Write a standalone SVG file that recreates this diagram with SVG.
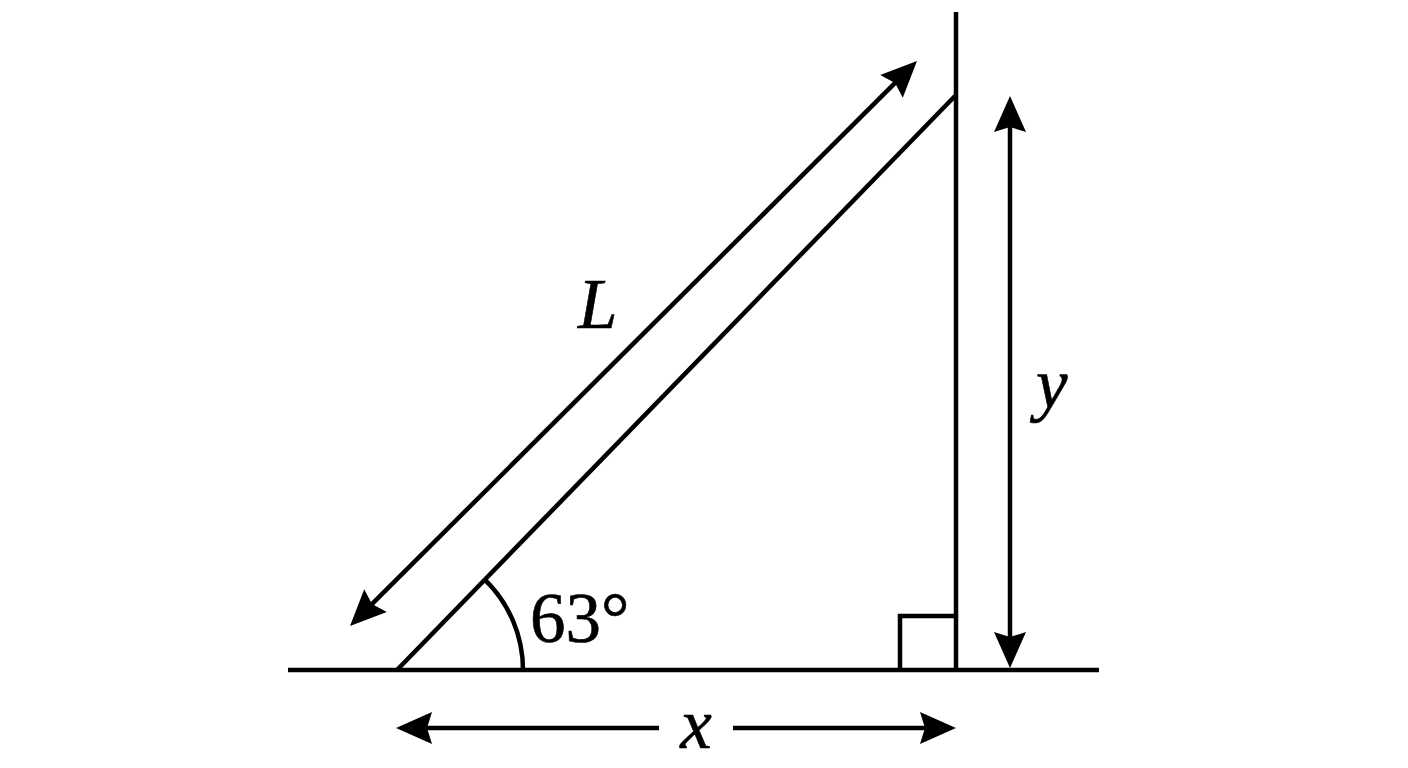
<svg xmlns="http://www.w3.org/2000/svg" width="1408" height="768" viewBox="0 0 1408 768">
<style>
.ln{stroke:#000;stroke-width:4.5;fill:none;stroke-linecap:butt}
.lbl{font-family:"Liberation Serif","Times New Roman",serif;font-size:71px;fill:#000;stroke:#000;stroke-width:0.6}
.it{font-style:italic}
</style>
<defs>
<marker id="ah" markerUnits="userSpaceOnUse" viewBox="-38 -17 40 34" refX="-10" refY="0" markerWidth="40" markerHeight="34" orient="auto-start-reverse">
<path d="M0,0 L-36,-16 L-31,0 L-36,16 Z" fill="#000"/>
</marker>
</defs>
<rect width="1408" height="768" fill="#fff"/>
<g id="ground"><line class="ln" x1="288" y1="670" x2="1099" y2="670"/></g>
<g id="wall"><line class="ln" x1="956" y1="12" x2="956" y2="672"/></g>
<g id="ladder"><line class="ln" x1="397" y1="670" x2="955" y2="96"/></g>
<g id="right-angle"><polyline class="ln" points="900,670 900,616 956,616"/></g>
<g id="angle-arc"><path class="ln" d="M523,670 A126,126 0 0 0 484.8,579.6"/></g>
<g id="connectors">
<line class="ln" x1="357.1" y1="618.9" x2="909.9" y2="68.1" marker-start="url(#ah)" marker-end="url(#ah)"/>
<line class="ln" x1="1010" y1="106" x2="1010" y2="658" marker-start="url(#ah)" marker-end="url(#ah)"/>
<line class="ln" x1="406" y1="728" x2="659" y2="728" marker-start="url(#ah)"/>
<line class="ln" x1="733" y1="728" x2="946" y2="728" marker-end="url(#ah)"/>
</g>
<g id="labels">
<text class="lbl it" x="578" y="328">L</text>
<text class="lbl" x="530" y="642">63°</text>
<text class="lbl it" x="1036" y="408">y</text>
<text class="lbl it" x="696" y="748" text-anchor="middle">x</text>
</g>
</svg>
